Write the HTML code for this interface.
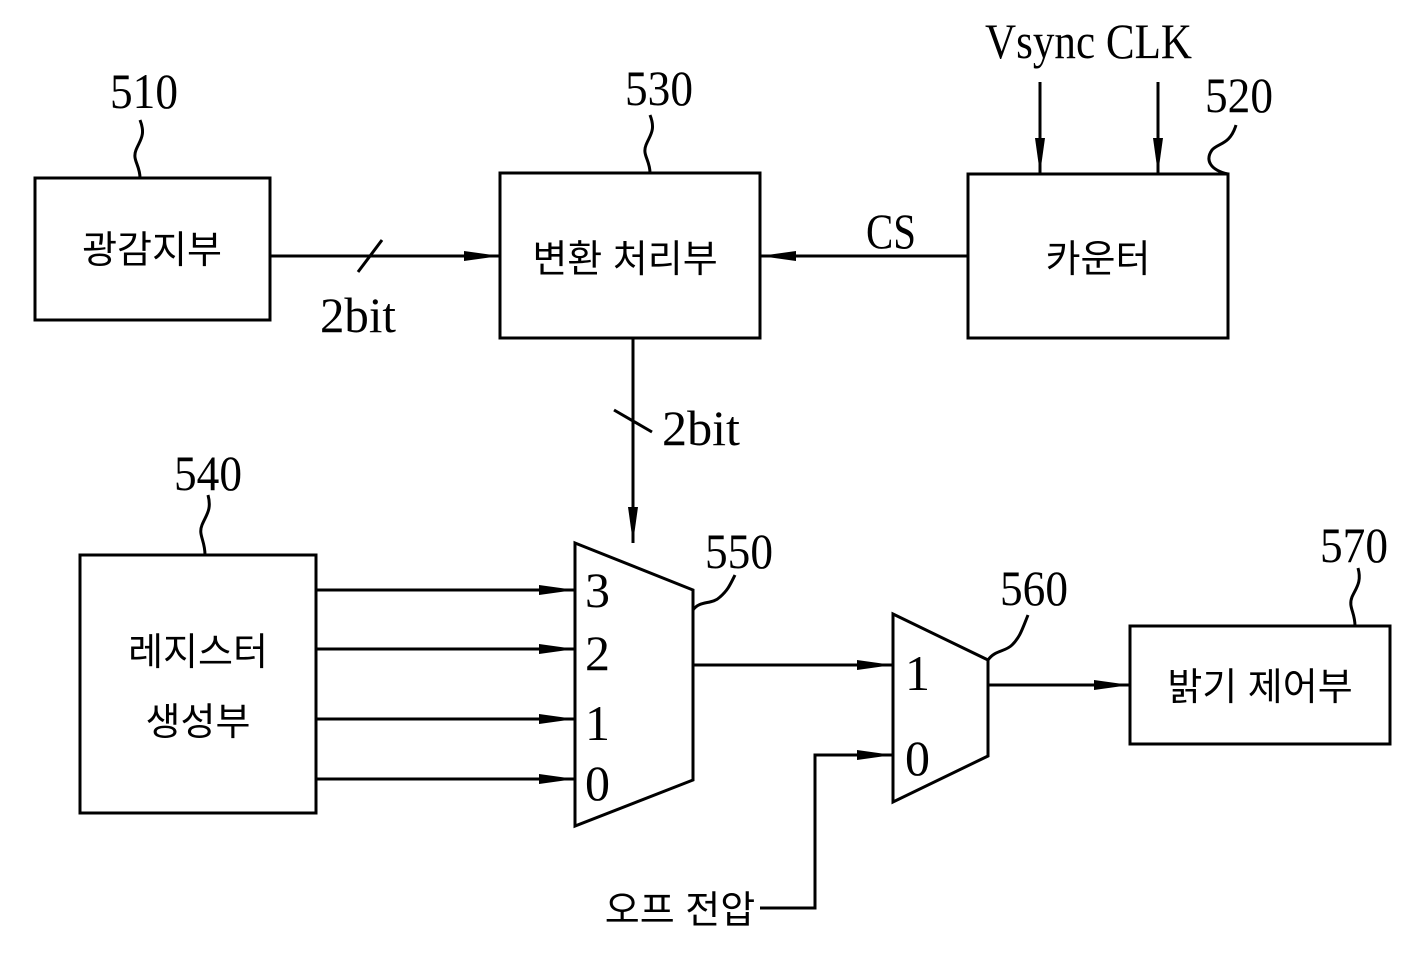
<!DOCTYPE html>
<html><head><meta charset="utf-8"><style>
html,body{margin:0;padding:0;background:#fff;}
svg{display:block;}
.n{font-family:"Liberation Serif",serif;font-size:50px;}
.k{font-family:"Liberation Sans","Noto Sans CJK KR","NanumGothic",sans-serif;font-size:38px;}
</style></head><body>
<svg width="1405" height="958" viewBox="0 0 1405 958" xmlns="http://www.w3.org/2000/svg">
<defs>
<marker id="a" markerWidth="36" markerHeight="12" refX="36" refY="6" orient="auto" markerUnits="userSpaceOnUse">
<path d="M0,1 L36,6 L0,11 Z" fill="#000"/></marker>
</defs>
<g fill="none" stroke="#000" stroke-width="3">
<rect x="35" y="178" width="235" height="142"/>
<rect x="500" y="173" width="260" height="165"/>
<rect x="968" y="174" width="260" height="164"/>
<rect x="80" y="555" width="236" height="258"/>
<rect x="1130" y="626" width="260" height="118"/>
<polygon points="575,543 693,590 693,780 575,826"/>
<polygon points="893,614 988,660 988,756 893,802"/>
<line x1="270" y1="256" x2="500" y2="256" marker-end="url(#a)"/>
<line x1="358" y1="272" x2="382" y2="240"/>
<line x1="968" y1="256" x2="760" y2="256" marker-end="url(#a)"/>
<line x1="1040" y1="82" x2="1040" y2="174" marker-end="url(#a)"/>
<line x1="1158" y1="82" x2="1158" y2="174" marker-end="url(#a)"/>
<line x1="633" y1="338" x2="633" y2="543" marker-end="url(#a)"/>
<line x1="614" y1="410" x2="652" y2="432"/>
<line x1="316" y1="590" x2="575" y2="590" marker-end="url(#a)"/>
<line x1="316" y1="649" x2="575" y2="649" marker-end="url(#a)"/>
<line x1="316" y1="719" x2="575" y2="719" marker-end="url(#a)"/>
<line x1="316" y1="779" x2="575" y2="779" marker-end="url(#a)"/>
<line x1="693" y1="665" x2="893" y2="665" marker-end="url(#a)"/>
<line x1="988" y1="685" x2="1130" y2="685" marker-end="url(#a)"/>
<polyline points="760,908 815,908 815,755 893,755" marker-end="url(#a)"/>
<path d="M140,178 C140,165 132,160 136,150 C140,140 146,135 140,120"/>
<path d="M650,173 C650,160 642,155 646,145 C650,135 656,130 650,115"/>
<path d="M1228,174 C1210,170 1205,160 1212,150 C1218,143 1230,145 1236,125"/>
<path d="M205,555 C205,540 198,535 202,525 C206,515 212,510 208,495"/>
<path d="M693,610 C700,600 712,605 720,597 C728,590 730,585 735,575"/>
<path d="M988,660 C995,650 1005,652 1012,645 C1020,637 1022,630 1028,615"/>
<path d="M1355,626 C1355,612 1348,607 1352,597 C1356,588 1362,582 1358,568"/>
</g>
<g class="n" fill="#000">
<text x="110" y="108" textLength="68" lengthAdjust="spacingAndGlyphs">510</text>
<text x="625" y="105" textLength="68" lengthAdjust="spacingAndGlyphs">530</text>
<text x="1205" y="112" textLength="68" lengthAdjust="spacingAndGlyphs">520</text>
<text x="174" y="490" textLength="68" lengthAdjust="spacingAndGlyphs">540</text>
<text x="705" y="568" textLength="68" lengthAdjust="spacingAndGlyphs">550</text>
<text x="1000" y="605" textLength="68" lengthAdjust="spacingAndGlyphs">560</text>
<text x="1320" y="562" textLength="68" lengthAdjust="spacingAndGlyphs">570</text>
<text x="985" y="58" textLength="207" lengthAdjust="spacingAndGlyphs">Vsync CLK</text>
<text x="866" y="248" textLength="50" lengthAdjust="spacingAndGlyphs">CS</text>
<text x="320" y="332" textLength="76" lengthAdjust="spacingAndGlyphs">2bit</text>
<text x="662" y="445" textLength="78" lengthAdjust="spacingAndGlyphs">2bit</text>
<text x="585" y="607">3</text>
<text x="585" y="670">2</text>
<text x="585" y="740">1</text>
<text x="585" y="800">0</text>
<text x="905" y="690">1</text>
<text x="905" y="775">0</text>
</g>
<g class="k" fill="#000">
<text x="152" y="263" text-anchor="middle">광감지부</text>
<text x="625" y="272" text-anchor="middle">변환 처리부</text>
<text x="1098" y="272" text-anchor="middle">카운터</text>
<text x="198" y="665" text-anchor="middle">레지스터</text>
<text x="198" y="735" text-anchor="middle">생성부</text>
<text x="1260" y="700" text-anchor="middle">밝기 제어부</text>
<text x="680" y="923" text-anchor="middle">오프 전압</text>
</g>
</svg>
</body></html>
